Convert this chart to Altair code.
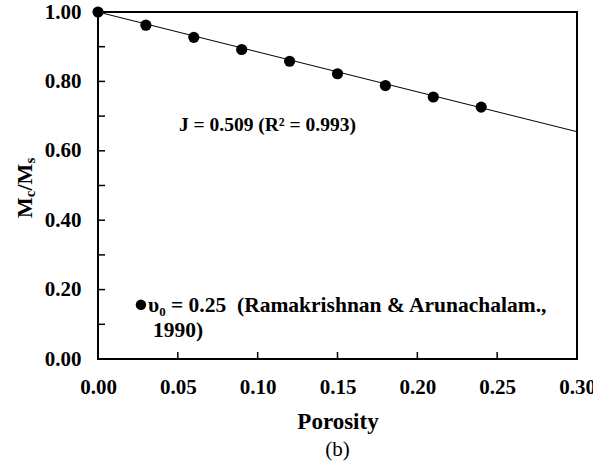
import altair as alt
import pandas as pd

# ---- data ----
porosity = [0.00, 0.03, 0.06, 0.09, 0.12, 0.15, 0.18, 0.21, 0.24]
mc_ms = [1.000, 0.962, 0.927, 0.892, 0.858, 0.822, 0.788, 0.755, 0.726]
fit_x = [0.00, 0.30]
fit_y = [1.000, 0.655]
y_ticks = [0.0, 0.1, 0.2, 0.3, 0.4, 0.5, 0.6, 0.7, 0.8, 0.9, 1.0]
y_labels = [0.0, 0.2, 0.4, 0.6, 0.8, 1.0]
x_ticks = [0.0, 0.05, 0.10, 0.15, 0.20, 0.25, 0.30]
fit_text = "J = 0.509 (R\u00b2 = 0.993)"
fit_text_pos = [0.1061, 0.674]
legend_dot = [0.0269, 0.156]
legend_line1 = "\u03c5\u2080 = 0.25\u00a0\u00a0(Ramakrishnan & Arunachalam.,"
legend_line2 = "1990)"

FONT = "Liberation Serif"
W, H = 479, 347

xs = alt.Scale(domain=[0, 0.30], nice=False, zero=False)
ys = alt.Scale(domain=[0, 1.0], nice=False, zero=False)

pts = pd.DataFrame({"x": porosity, "y": mc_ms})
fit = pd.DataFrame({"x": fit_x, "y": fit_y})

x_axis = alt.Axis(values=x_ticks, format=".2f", title="Porosity", tickSize=0, domain=False,
                  grid=False, labelFont=FONT, labelFontSize=21, labelFontWeight="bold",
                  labelColor="black", labelPadding=17, titleFont=FONT, titleFontSize=23,
                  titleFontWeight="bold", titleColor="black", titlePadding=13, labelFlush=False)
y_axis = alt.Axis(values=y_labels, format=".2f", title=None, tickSize=0, domain=False,
                  grid=False, labelFont=FONT, labelFontSize=21, labelFontWeight="bold",
                  labelColor="black", labelPadding=17, labelFlush=False)

line = alt.Chart(fit).mark_line(color="black", strokeWidth=1).encode(
    x=alt.X("x:Q", scale=xs, axis=x_axis),
    y=alt.Y("y:Q", scale=ys, axis=y_axis),
)
points = alt.Chart(pts).mark_circle(color="black", opacity=1, size=125).encode(
    x=alt.X("x:Q", scale=xs), y=alt.Y("y:Q", scale=ys))

yt = alt.Chart(pd.DataFrame({"y": y_ticks})).mark_rule(color="black", strokeWidth=1.5).encode(
    y=alt.Y("y:Q", scale=ys), x=alt.value(0), x2=alt.value(7))
xt = alt.Chart(pd.DataFrame({"x": x_ticks})).mark_rule(color="black", strokeWidth=1.5).encode(
    x=alt.X("x:Q", scale=xs), y=alt.value(H), y2=alt.value(H - 7))

ann = alt.Chart(pd.DataFrame({"x": [fit_text_pos[0]], "y": [fit_text_pos[1]], "t": [fit_text]})).mark_text(
    font=FONT, fontSize=19.5, fontWeight="bold", color="black", align="center", baseline="middle"
).encode(x=alt.X("x:Q", scale=xs), y=alt.Y("y:Q", scale=ys), text="t:N")

leg_dot = alt.Chart(pd.DataFrame({"x": [legend_dot[0]], "y": [legend_dot[1]]})).mark_circle(
    color="black", opacity=1, size=110).encode(x=alt.X("x:Q", scale=xs), y=alt.Y("y:Q", scale=ys))
leg1 = alt.Chart(pd.DataFrame({"t": [legend_line1]})).mark_text(
    font=FONT, fontSize=21.5, fontWeight="bold", color="black", align="left", baseline="middle"
).encode(x=alt.value(50), y=alt.value(294), text="t:N")
leg2 = alt.Chart(pd.DataFrame({"t": [legend_line2]})).mark_text(
    font=FONT, fontSize=21.5, fontWeight="bold", color="black", align="left", baseline="middle"
).encode(x=alt.value(55), y=alt.value(319), text="t:N")

# y-axis title built from pieces (with subscripts), rotated
title_parts = [
    ("M", 22, -66, 206),
    ("c", 15, -63, 185.2),
    ("/", 22, -66, 178.5),
    ("M", 22, -66, 172.4),
    ("s", 15, -63, 151.6),
]
ytitle = []
for txt, fs, px, py in title_parts:
    ytitle.append(alt.Chart(pd.DataFrame({"t": [txt]})).mark_text(
        font=FONT, fontSize=fs, fontWeight="bold", color="black", align="left",
        baseline="alphabetic", angle=270
    ).encode(x=alt.value(px), y=alt.value(py), text="t:N"))

sub = alt.Chart(pd.DataFrame({"t": ["(b)"]})).mark_text(
    font=FONT, fontSize=21, color="black", align="center", baseline="middle"
).encode(x=alt.value(W / 2), y=alt.value(438), text="t:N")

chart = alt.layer(line, points, yt, xt, ann, leg_dot, leg1, leg2, *ytitle, sub).properties(
    width=W, height=H,
    autosize=alt.AutoSizeParams(type="none"),
    padding={"left": 98, "top": 12, "right": 16, "bottom": 113},
    background="white",
).configure_view(stroke="black", strokeWidth=2)

chart.save("out.html", embed_options={"renderer": "svg", "actions": False})
